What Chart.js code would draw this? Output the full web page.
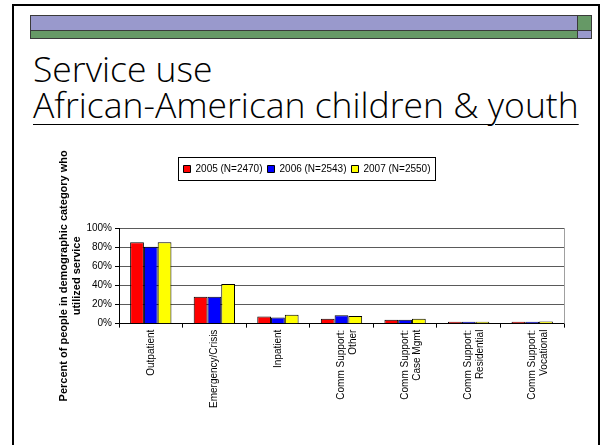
<!DOCTYPE html>
<html>
<head>
<meta charset="utf-8">
<script src="https://cdn.jsdelivr.net/npm/chart.js@4.4.0/dist/chart.umd.min.js"></script>
<style>
    html, body {
        margin: 0;
        padding: 0;
        background: #fff;
    }
    body {
        width: 602px;
        height: 445px;
        position: relative;
        overflow: hidden;
    }
    /* slide frame - bottom edge runs off the picture */
    .frame {
        position: absolute;
        left: 12px;
        top: 4px;
        width: 584px;
        height: 470px;
        border: 2px solid #000;
    }
    .band {
        position: absolute;
        box-sizing: border-box;
        border: 1px solid #3a3a3a;
    }
    .purple { background: #9999cc; }
    .green { background: #669966; }
    .title {
        position: absolute;
        left: 33px;
        font-family: 'Open Sans', 'DejaVu Sans', sans-serif;
        font-weight: 300;
        font-size: 35.5px;
        color: #000;
        white-space: nowrap;
        line-height: 36px;
    }
    .title .sub {
        text-decoration: underline;
        text-decoration-thickness: 1px;
        text-underline-offset: 6px;
    }
    #chartBox {
        position: absolute;
        left: 50px;
        top: 150px;
        width: 535px;
        height: 260px;
    }
</style>
</head>
<body>
<div class="frame"></div>
<div class="band purple" style="left:30px; top:15px; width:548px; height:16px;"></div>
<div class="band green" style="left:30px; top:30px; width:548px; height:9px;"></div>
<div class="band green" style="left:577px; top:15px; width:15px; height:16px;"></div>
<div class="band purple" style="left:577px; top:30px; width:15px; height:9px;"></div>

<div class="title" style="top:50px;">Service use<br><span class="sub">African-American children &amp; youth</span></div>

<div id="chartBox"><canvas id="serviceChart"></canvas></div>

<script>
// Data (percent of people who used each service)
const categories = [
    'Outpatient',
    'Emergency/Crisis',
    'Inpatient',
    ['Comm Support:', 'Other'],
    ['Comm Support:', 'Case Mgmt'],
    ['Comm Support:', 'Residential'],
    ['Comm Support:', 'Vocational']
];
const seriesLabels = ['2005 (N=2470)', '2006 (N=2543)', '2007 (N=2550)'];
const values2005 = [85, 28, 7.5, 5, 4, 0.6, 0.5];
const values2006 = [80.5, 28, 6.3, 8.7, 4, 0.6, 0.6];
const values2007 = [85, 41.5, 9.4, 8, 5.2, 0.6, 2.2];
const yTicks = [0, 20, 40, 60, 80, 100];
const yTitleLines = ['Percent of people in demographic category who', 'utilized service'];

const FONT = "'Liberation Sans', Arial, sans-serif";

// Draws the box around the legend, the grey right edge of the plot
// and the two-line rotated y axis title
const slideExtras = {
    id: 'slideExtras',
    beforeInit(chart) {
        // leave a gap between the legend and the plot
        const origFit = chart.legend.fit;
        chart.legend.fit = function() {
            origFit.bind(chart.legend)();
            this.height += 44;
        };
    },
    afterDraw(chart) {
        const ctx = chart.ctx;
        const area = chart.chartArea;
        const legend = chart.legend;

        // legend frame
        const boxes = legend.legendHitBoxes;
        if (boxes && boxes.length) {
            let left = Infinity, right = -Infinity, top = Infinity, bottom = -Infinity;
            boxes.forEach(b => {
                left = Math.min(left, b.left);
                right = Math.max(right, b.left + b.width);
                top = Math.min(top, b.top);
                bottom = Math.max(bottom, b.top + b.height);
            });
            ctx.save();
            ctx.strokeStyle = '#000';
            ctx.lineWidth = 1;
            ctx.strokeRect(Math.round(left - 6) + 0.5, Math.round(top - 7) + 0.5,
                Math.round(right - left + 10), Math.round(bottom - top + 13));
            ctx.restore();
        }

        // grey right edge of the plot area
        ctx.save();
        ctx.strokeStyle = '#a0a0a0';
        ctx.lineWidth = 1;
        ctx.beginPath();
        ctx.moveTo(Math.round(area.right) + 0.5, area.top);
        ctx.lineTo(Math.round(area.right) + 0.5, area.bottom);
        ctx.stroke();
        ctx.restore();

        // y axis title, two lines read bottom to top, centred on the plot
        ctx.save();
        ctx.fillStyle = '#000';
        ctx.font = 'bold 11px ' + FONT;
        ctx.textAlign = 'center';
        ctx.textBaseline = 'middle';
        const midY = (area.top + area.bottom) / 2;
        yTitleLines.forEach((line, i) => {
            ctx.save();
            ctx.translate(14 + i * 13, midY);
            ctx.rotate(-Math.PI / 2);
            ctx.fillText(line, 0, 0);
            ctx.restore();
        });
        ctx.restore();
    }
};

function buildDatasets() {
    const colors = ['#ff0000', '#0000ff', '#ffff00'];
    const allValues = [values2005, values2006, values2007];
    return seriesLabels.map((label, i) => ({
        label: label,
        data: allValues[i],
        backgroundColor: colors[i],
        borderColor: '#000',
        borderWidth: 1,
        borderSkipped: 'bottom',
        minBarLength: 2,
        categoryPercentage: 0.65,
        barPercentage: 1.0
    }));
}

document.addEventListener('DOMContentLoaded', function() {
    const ctx = document.getElementById('serviceChart').getContext('2d');

    new Chart(ctx, {
        type: 'bar',
        data: {
            labels: categories,
            datasets: buildDatasets()
        },
        options: {
            responsive: true,
            maintainAspectRatio: false,
            animation: false,
            layout: {
                padding: { top: 9, right: 21, bottom: 0, left: 0 }
            },
            plugins: {
                legend: {
                    display: true,
                    position: 'top',
                    labels: {
                        boxWidth: 7,
                        boxHeight: 7,
                        padding: 5,
                        color: '#000',
                        font: { family: FONT, size: 10 }
                    }
                },
                tooltip: { enabled: false }
            },
            scales: {
                x: {
                    grid: {
                        drawOnChartArea: false,
                        drawTicks: true,
                        tickLength: 4,
                        color: '#000'
                    },
                    border: { color: '#000' },
                    ticks: {
                        minRotation: 90,
                        maxRotation: 90,
                        autoSkip: false,
                        padding: 2,
                        color: '#000',
                        font: { family: FONT, size: 10 }
                    }
                },
                y: {
                    min: 0,
                    max: 100,
                    afterFit(scale) {
                        scale.width = 69;
                    },
                    afterBuildTicks(scale) {
                        scale.ticks = yTicks.map(v => ({ value: v }));
                    },
                    grid: {
                        color: '#5a5a5a',
                        tickColor: '#000',
                        tickLength: 4
                    },
                    border: { color: '#000' },
                    ticks: {
                        padding: 3,
                        color: '#000',
                        font: { family: FONT, size: 10 },
                        callback: v => v + '%'
                    }
                }
            }
        },
        plugins: [slideExtras]
    });
});
</script>
</body>
</html>
